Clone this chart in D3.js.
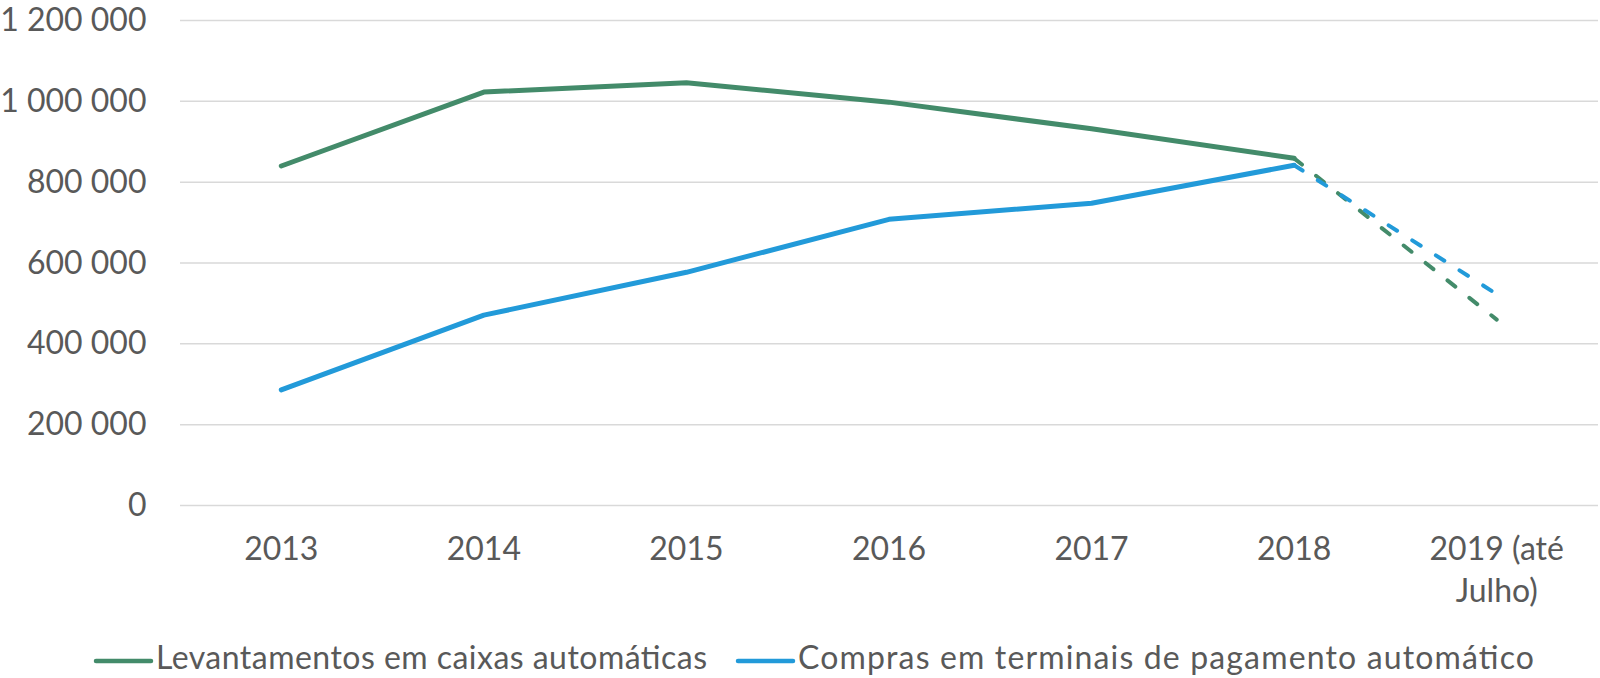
<!DOCTYPE html>
<html>
<head>
<meta charset="utf-8">
<script src="https://cdn.jsdelivr.net/npm/d3@7/dist/d3.min.js"></script>
<style>
  html, body { margin: 0; padding: 0; background: #fff; }
  svg { display: block; }
  text { font-family: Lato, "Open Sans", sans-serif; fill: #595959; }
</style>
</head>
<body>
<svg id="chart" width="1600" height="678"></svg>
<script>
// ---- data ----
const categories = ["2013", "2014", "2015", "2016", "2017", "2018", "2019 (até Julho)"];
const categoryLines = [["2013"], ["2014"], ["2015"], ["2016"], ["2017"], ["2018"], ["2019 (até", "Julho)"]];
const levantamentos = [840000, 1023000, 1046000, 998000, 932000, 859000, 460000];
const compras = [286000, 471000, 577000, 708000, 748000, 842000, 523000];
const seriesNames = ["Levantamentos em caixas automáticas", "Compras em terminais de pagamento automático"];
const seriesColors = ["#438B6A", "#229AD9"];
const yTicks = [0, 200000, 400000, 600000, 800000, 1000000, 1200000];
const yMax = 1200000;
const partialIndex = 5; // last full year; after this, dashed

// ---- layout ----
const svg = d3.select("#chart");
const plotLeft = 180, plotRight = 1598, plotTop = 20.5, plotBottom = 505.5;

const x = d3.scaleBand().domain(categories).range([plotLeft, plotRight]).padding(0);
const y = d3.scaleLinear().domain([0, yMax]).range([plotBottom, plotTop]);
const cx = c => x(c) + x.bandwidth() / 2;

const fmt = d3.formatLocale({ decimal: ",", thousands: " ", grouping: [3], currency: ["", "€"] }).format(",d");

// gridlines
svg.append("g").selectAll("line").data(yTicks).join("line")
  .attr("x1", plotLeft).attr("x2", plotRight)
  .attr("y1", d => y(d)).attr("y2", d => y(d))
  .attr("stroke", "#D9D9D9").attr("stroke-width", 1.5);

// y labels
svg.append("g").selectAll("text").data(yTicks).join("text")
  .attr("x", 146.5).attr("y", d => y(d))
  .attr("dy", "0.33em")
  .attr("text-anchor", "end")
  .attr("font-size", 32)
  .text(d => fmt(d));

// x labels
const xl = svg.append("g").selectAll("text").data(categories).join("text")
  .attr("text-anchor", "middle")
  .attr("font-size", 32)
  .attr("x", d => cx(d))
  .attr("y", 560);
xl.each(function(d, i) {
  const t = d3.select(this);
  categoryLines[i].forEach((ln, j) => {
    t.append("tspan").attr("x", cx(d)).attr("dy", j === 0 ? 0 : 42).text(ln);
  });
});

// lines
const seriesData = [levantamentos, compras];
const line = d3.line().x(d => cx(d.c)).y(d => y(d.v));
seriesData.forEach((vals, s) => {
  const pts = vals.map((v, i) => ({ c: categories[i], v }));
  svg.append("path")
    .datum(pts.slice(0, partialIndex + 1))
    .attr("d", line)
    .attr("fill", "none")
    .attr("stroke", seriesColors[s])
    .attr("stroke-width", 5)
    .attr("stroke-linejoin", "round")
    .attr("stroke-linecap", "round");
  svg.append("path")
    .datum(pts.slice(partialIndex))
    .attr("d", line)
    .attr("fill", "none")
    .attr("stroke", seriesColors[s])
    .attr("stroke-width", 4)
    .attr("stroke-dasharray", "10,18")
    .attr("stroke-linecap", "round");
});

// legend
const legendItems = [
  { x1: 96, x2: 151, tx: 156, w: 551 },
  { x1: 738, x2: 793, tx: 798, w: 736 }
];
const lg = svg.append("g");
seriesNames.forEach((name, i) => {
  const it = legendItems[i];
  lg.append("line")
    .attr("x1", it.x1).attr("x2", it.x2).attr("y1", 661).attr("y2", 661)
    .attr("stroke", seriesColors[i]).attr("stroke-width", 4.5).attr("stroke-linecap", "round");
  lg.append("text").attr("x", it.tx).attr("y", 669).attr("font-size", 32)
    .attr("textLength", it.w).attr("lengthAdjust", "spacing")
    .text(name);
});
</script>
</body>
</html>
